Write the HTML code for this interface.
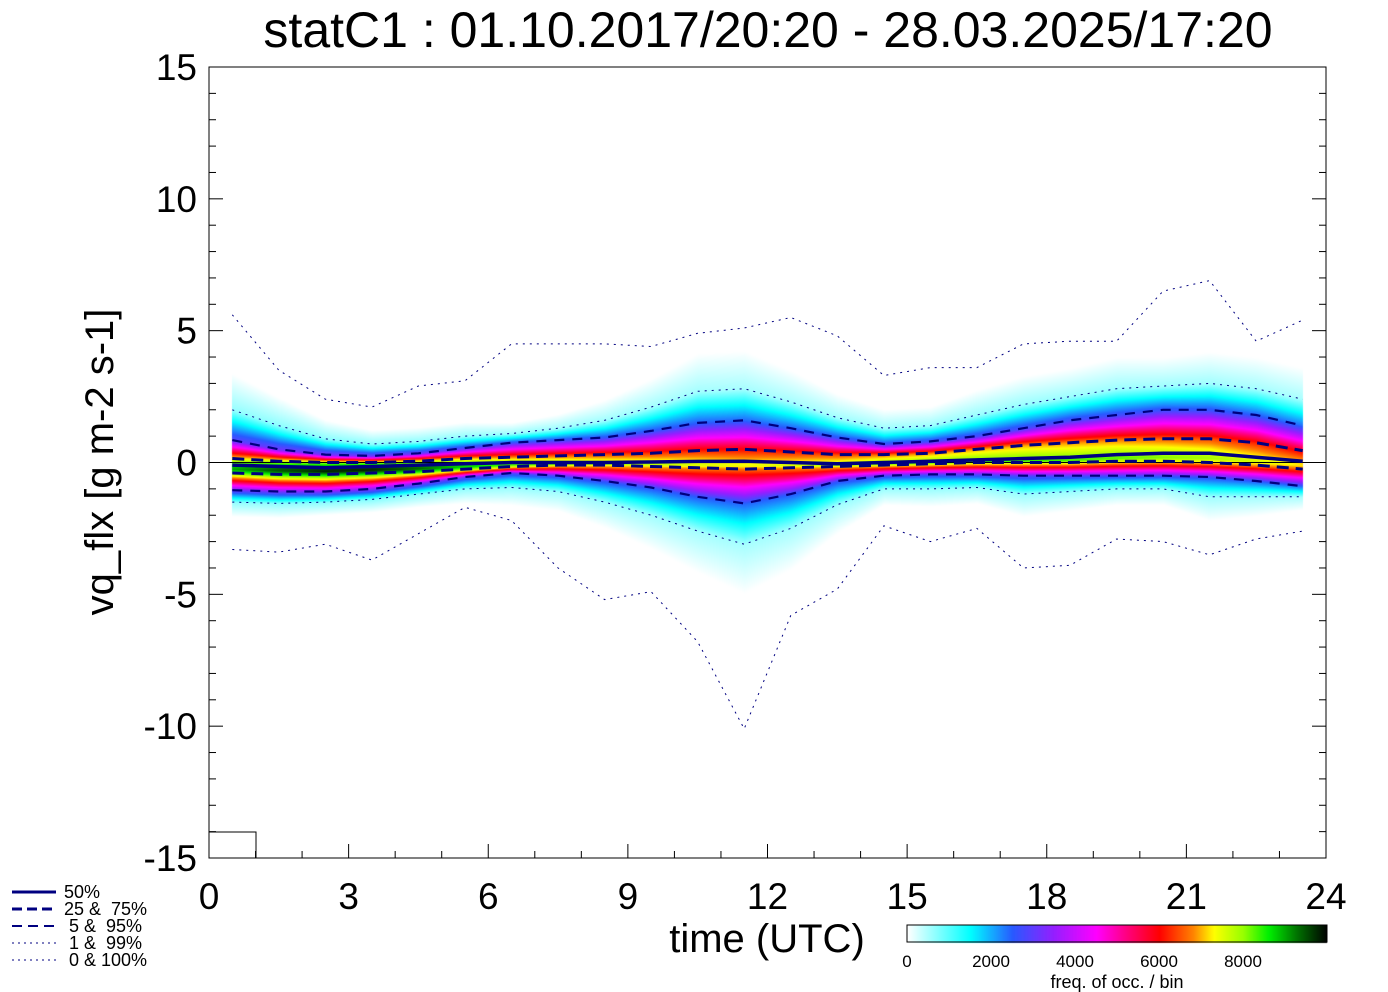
<!DOCTYPE html>
<html><head><meta charset="utf-8"><style>
html,body{margin:0;padding:0;background:#fff;}
#wrap{position:relative;width:1388px;height:992px;overflow:hidden;font-family:"Liberation Sans",sans-serif;}
canvas{position:absolute;left:0;top:0;}
svg{position:absolute;left:0;top:0;}
text{white-space:pre;}
</style></head><body>
<div id="wrap">
<canvas id="heat" width="1388" height="992"></canvas>
<svg id="svg" width="1388" height="992"></svg>
</div>
<script>
const hours=[0.5,1.5,2.5,3.5,4.5,5.5,6.5,7.5,8.5,9.5,10.5,11.5,12.5,13.5,14.5,15.5,16.5,17.5,18.5,19.5,20.5,21.5,22.5,23.5];
const pMax=[5.6,3.5,2.4,2.1,2.9,3.1,4.5,4.5,4.5,4.4,4.9,5.1,5.5,4.8,3.3,3.6,3.6,4.5,4.6,4.6,6.5,6.9,4.6,5.4];
const pMin=[-3.3,-3.4,-3.1,-3.7,-2.7,-1.7,-2.2,-4.0,-5.2,-4.9,-6.8,-10.1,-5.8,-4.8,-2.4,-3.0,-2.5,-4.0,-3.9,-2.9,-3.0,-3.5,-2.9,-2.6];
const p99=[2.0,1.4,0.9,0.7,0.8,1.0,1.1,1.3,1.6,2.1,2.7,2.8,2.3,1.7,1.3,1.4,1.8,2.2,2.5,2.8,2.9,3.0,2.8,2.4];
const p1=[-1.5,-1.55,-1.5,-1.4,-1.2,-1.0,-0.95,-1.1,-1.5,-2.0,-2.6,-3.1,-2.5,-1.6,-1.0,-1.0,-0.95,-1.2,-1.1,-1.0,-1.0,-1.3,-1.3,-1.3];
const p95=[0.85,0.5,0.3,0.25,0.35,0.55,0.75,0.85,0.95,1.2,1.5,1.6,1.3,0.95,0.7,0.8,1.0,1.3,1.6,1.8,2.0,2.0,1.8,1.4];
const p5=[-1.05,-1.1,-1.1,-1.0,-0.8,-0.55,-0.4,-0.5,-0.7,-0.95,-1.3,-1.55,-1.2,-0.7,-0.5,-0.45,-0.45,-0.5,-0.5,-0.5,-0.5,-0.55,-0.7,-0.9];
const p75=[0.15,0.05,0.0,0.0,0.05,0.15,0.2,0.25,0.3,0.35,0.45,0.5,0.4,0.3,0.3,0.35,0.5,0.65,0.75,0.85,0.9,0.9,0.75,0.45];
const p25=[-0.4,-0.45,-0.45,-0.4,-0.35,-0.25,-0.15,-0.1,-0.1,-0.15,-0.2,-0.25,-0.2,-0.15,-0.1,-0.05,0.0,0.0,0.0,0.05,0.05,0.0,-0.1,-0.25];
const p50=[-0.1,-0.15,-0.2,-0.15,-0.1,-0.05,0.0,0.0,0.0,0.02,0.04,0.05,0.0,-0.05,0.0,0.05,0.1,0.15,0.2,0.3,0.35,0.35,0.2,0.05];
const peakFreq=[9000,9500,9800,9800,9400,8800,8400,8200,8000,7800,7600,7400,7600,7900,8200,8400,8500,8500,8400,8300,8100,7900,7600,7200];
const xTicks=[0,3,6,9,12,15,18,21,24];
const yTicks=[-15,-10,-5,0,5,10,15];
const cbTicks=[0,2000,4000,6000,8000];

const X0=209,X1=1326,Y0=67,Y1=858;
const xs=h=>X0+(h/24)*(X1-X0);
const ys=v=>Y1-((v+15)/30)*(Y1-Y0);
const cmStops=[[0,[255,255,255]],[0.15,[0,255,255]],[0.25,[40,90,255]],[0.35,[150,30,255]],[0.45,[255,0,255]],[0.52,[255,0,130]],[0.6,[255,0,0]],[0.68,[255,130,0]],[0.73,[255,255,0]],[0.8,[150,255,0]],[0.86,[0,240,0]],[0.93,[0,110,0]],[1,[0,0,0]]];
function cmap(f){f=Math.max(0,Math.min(1,f));for(let i=1;i<cmStops.length;i++){if(f<=cmStops[i][0]){const a=cmStops[i-1],b=cmStops[i];const t=(f-a[0])/(b[0]-a[0]);return a[1].map((c,k)=>Math.round(c+(b[1][k]-c)*t));}}return [0,0,0];}
function interp(arr,h){if(h<=hours[0])return arr[0];if(h>=hours[hours.length-1])return arr[arr.length-1];const i=Math.floor(h-0.5);const t=h-hours[i];return arr[i]+(arr[i+1]-arr[i])*t;}

const ctx=document.getElementById('heat').getContext('2d');
const img=ctx.createImageData(1388,992);
const xa=Math.round(xs(0.5)),xb=Math.round(xs(23.5));
for(let px=xa;px<xb;px++){
  const h=(px-X0)/(X1-X0)*24;
  const q1=interp(p1,h),q5=interp(p5,h),q25=interp(p25,h),q50=interp(p50,h),q75=interp(p75,h),q95=interp(p95,h),q99=interp(p99,h);
  const pk=interp(peakFreq,h)/10000;
  const kv=[q1-(q5-q1)*1.2,q1,q5,q25,(q25+q50)/2,q50,q75,q95,q99,q99+(q99-q95)*1.2];
  const kr=[0,0.07,0.33,0.9,1,0.97,0.82,0.33,0.07,0];
  for(let py=Y0;py<Y1;py++){
    const v=-15+(Y1-py)/(Y1-Y0)*30;
    let r=0;
    if(v>kv[0]&&v<kv[kv.length-1]){for(let i=1;i<kv.length;i++){if(v<=kv[i]){const t=(v-kv[i-1])/Math.max(1e-6,kv[i]-kv[i-1]);r=kr[i-1]+(kr[i]-kr[i-1])*t;break;}}}
    const c=cmap(r*pk);const o=(py*1388+px)*4;
    img.data[o]=c[0];img.data[o+1]=c[1];img.data[o+2]=c[2];img.data[o+3]=255;
  }
}
for(let px=907;px<1327;px++){const c=cmap((px-907)/420);for(let py=925;py<943;py++){const o=(py*1388+px)*4;img.data[o]=c[0];img.data[o+1]=c[1];img.data[o+2]=c[2];img.data[o+3]=255;}}
ctx.putImageData(img,0,0);

const svg=document.getElementById('svg');
const NS='http://www.w3.org/2000/svg';
function mk(tag,attrs,name){const e=document.createElementNS(NS,tag);for(const k in attrs)e.setAttribute(k,attrs[k]);


svg.appendChild(e);return e;}
function txt(x,y,s,size,anchor,name,extra){const e=mk('text',Object.assign({x:x,y:y,'font-size':size,'text-anchor':anchor||'middle',fill:'#000','font-family':'Liberation Sans, sans-serif'},extra||{}),name);e.textContent=s;return e;}

mk('line',{x1:X0,x2:X1,y1:ys(0),y2:ys(0),stroke:'#000','stroke-width':1},'zero-line');
function series(arr,name,w,dash){const pts=hours.map((h,i)=>xs(h).toFixed(1)+','+ys(arr[i]).toFixed(1)).join(' ');
const a={points:pts,fill:'none',stroke:'#000080','stroke-width':w};if(dash)a['stroke-dasharray']=dash;mk('polyline',a,name);}
series(pMax,'line-max',1,'2 5');series(pMin,'line-min',1,'2 5');
series(p99,'line-p99',1,'2 5');series(p1,'line-p1',1,'2 5');
series(p95,'line-p95',2.2,'10 8');series(p5,'line-p5',2.2,'10 8');
series(p75,'line-p75',3,'12 7');series(p25,'line-p25',3,'12 7');
series(p50,'line-median',3.5,null);

mk('rect',{x:X0,y:Y0,width:X1-X0,height:Y1-Y0,fill:'none',stroke:'#000','stroke-width':1},'plot-frame');
mk('rect',{x:X0,y:832,width:47,height:26,fill:'none',stroke:'#000','stroke-width':1},'corner-box');
for(let v=-15;v<=15;v++){const y=ys(v);const L=(v%5===0)?14:7;
mk('line',{x1:X0,x2:X0+L,y1:y,y2:y,stroke:'#000'},'y-tick');
mk('line',{x1:X1,x2:X1-L,y1:y,y2:y,stroke:'#000'},'y-tick-right');}
for(let h=0;h<=24;h++){const x=xs(h);const L=(h%3===0)?14:7;
mk('line',{x1:x,x2:x,y1:Y1,y2:Y1-L,stroke:'#000'},'x-tick');}
yTicks.forEach(v=>txt(197,ys(v)+13,String(v),37,'end','y-tick-label'));
xTicks.forEach(h=>txt(xs(h),909,String(h),37,'middle','x-tick-label'));
txt(768,47,'statC1 : 01.10.2017/20:20 - 28.03.2025/17:20',50,'middle','chart-title');
txt(767,952,'time (UTC)',40,'middle','x-axis-title');
txt(113,462,'vq_flx [g m-2 s-1]',40,'middle','y-axis-title',{transform:'rotate(-90 113 462)'});
mk('rect',{x:907,y:925,width:420,height:17,fill:'none',stroke:'#000'},'colorbar-frame');
cbTicks.forEach(v=>{const x=907+v/10000*420;txt(x,967,String(v),17,'middle','colorbar-label');});
txt(1117,988,'freq. of occ. / bin',18,'middle','colorbar-title');
const legY=[892,909,926,943,960];
const legT=['50%','25 &  75%',' 5 &  95%',' 1 &  99%',' 0 & 100%'];
const legW=[3,3,2,1,1];const legD=[null,'10 5','10 6','2 4','2 4'];
legY.forEach((y,i)=>{const a={x1:12,x2:56,y1:y,y2:y,stroke:'#000080','stroke-width':legW[i]};if(legD[i])a['stroke-dasharray']=legD[i];mk('line',a,'legend-line');
txt(64,y+6,legT[i],18,'start','legend-entry');});
</script>
</body></html>
